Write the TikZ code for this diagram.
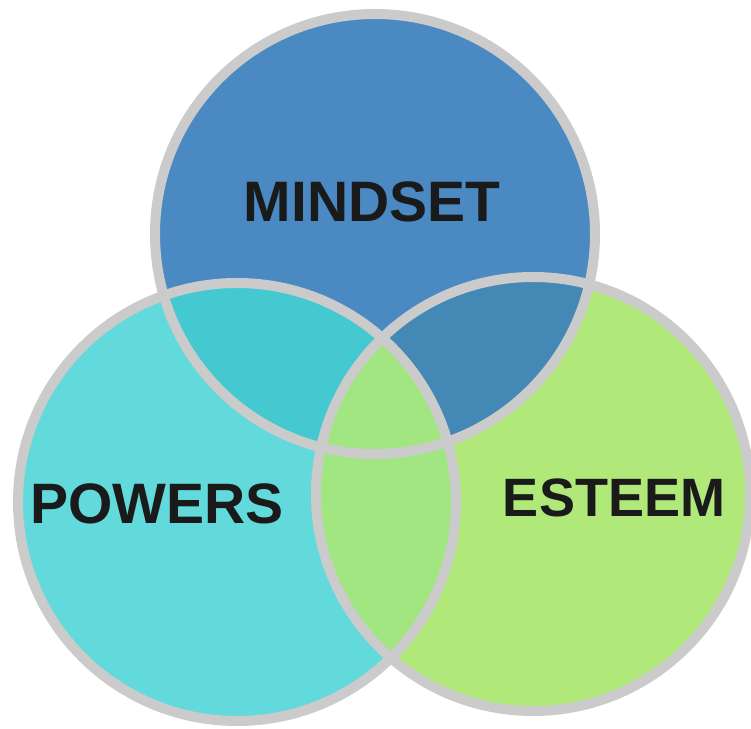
\documentclass[tikz,border=0pt]{standalone}
\usepackage{fontspec}
\setmainfont{Liberation Sans}

\definecolor{mindblue}{HTML}{4A89C2}
\definecolor{powcyan}{HTML}{62DADB}
\definecolor{estgreen}{HTML}{B0E97A}
\definecolor{mpcyan}{HTML}{44C9D0}
\definecolor{meblue}{HTML}{4488B5}
\definecolor{pegreen}{HTML}{A1E680}
\definecolor{ringgray}{HTML}{CBCBCB}
\definecolor{labelblack}{HTML}{1A1A1A}

\begin{document}
\begin{tikzpicture}[x=1pt,y=1pt,
    ring/.style={draw=ringgray, line width=10pt},
    label/.style={font=\bfseries\fontsize{57}{60}\selectfont, text=labelblack}]

    \useasboundingbox (0,0) rectangle (751,728);

    % Define the circle centres
    \coordinate (M) at (375,494);
    \coordinate (P) at (237,226);
    \coordinate (E) at (533,234);

    % Fill the circles
    \fill[mindblue] (M) circle (220);
    \fill[powcyan]  (P) circle (219);
    \fill[estgreen] (E) circle (217);

    % Fill the overlaps
    \begin{scope}
        \clip (M) circle (220);
        \fill[mpcyan] (P) circle (219);
        \fill[meblue] (E) circle (217);
    \end{scope}
    \begin{scope}
        \clip (P) circle (219);
        \fill[pegreen] (E) circle (217);
    \end{scope}

    % Draw rings
    \draw[ring] (M) circle (220);
    \draw[ring] (P) circle (219);
    \draw[ring] (E) circle (217);

    % Add labels
    \node[label] (mindset) at (372,526) {MINDSET};
    \node[label] (powers)  at (157,224) {POWERS};
    \node[label, font=\bfseries\fontsize{54}{58}\selectfont] (esteem) at (614,230) {ESTEEM};

\end{tikzpicture}
\end{document}
